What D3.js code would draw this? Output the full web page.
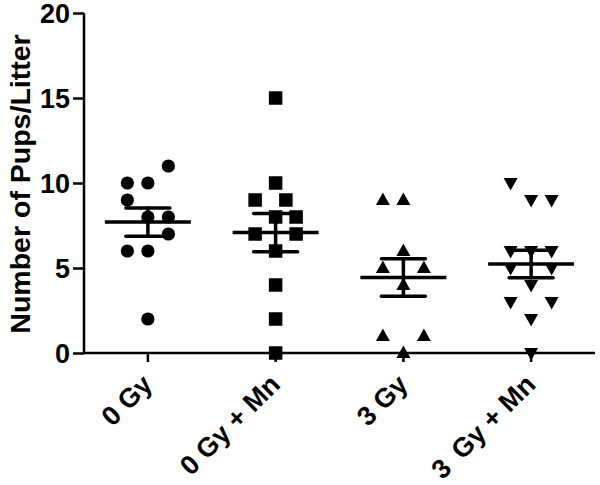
<!DOCTYPE html>
<html><head><meta charset="utf-8">
<script src="https://cdn.jsdelivr.net/npm/d3@7"></script>
<style>
html,body{margin:0;padding:0;background:#fff;}
svg text{font-family:"Liberation Sans",Arial,sans-serif;font-weight:bold;fill:#000;white-space:pre;}
</style></head>
<body><svg id="c" width="600" height="485"></svg>
<script>
const categories = ["0 Gy", "0 Gy + Mn", "3 Gy", "3\u2009 Gy + Mn"];
const shapes = ["circle", "square", "triangleUp", "triangleDown"];
const values0 = [11, 10, 10, 9, 8, 8, 7, 6, 6, 2];
const values1 = [15, 10, 9, 9, 8, 8, 7, 7, 6, 4, 2, 0];
const values2 = [9, 9, 6, 5, 5, 4, 1, 1, 0];
const values3 = [10, 9, 9, 6, 6, 6, 5, 5, 4, 3, 3, 2, 0];
// scatter column (jitter slot) of each point
const slots0 = [1, -1, 0, -1, 0, 1, 1, -1, 0, 0];
const slots1 = [0, 0, -1, 0.5, 0, 1, -1, 1, 0, 0, 0, 0];
const slots2 = [-1, 0, 0, -1, 1, 0, -1, 1, 0];
const slots3 = [-1, 0, 1, -1, 0, 1, -1, 1, 0, -1, 1, 0, 0];
const yTicks = [0, 5, 10, 15, 20];
const yTitle = "Number of Pups/Litter";

const groups = [
  {values: values0, slots: slots0},
  {values: values1, slots: slots1},
  {values: values2, slots: slots2},
  {values: values3, slots: slots3}
];

const svg = d3.select("#c");
const x = d3.scaleBand().domain(categories).range([84, 595]).padding(0);
const y = d3.scaleLinear().domain([0, 20]).range([353, 13]);
const slotW = 20.5;

// y axis
const yAxis = svg.append("g").attr("transform", "translate(84,0)")
  .call(d3.axisLeft(y).tickValues(yTicks).tickSize(11).tickPadding(3).tickFormat(d3.format("d")));
yAxis.select(".domain").attr("stroke", "#000").attr("stroke-width", 2.5).attr("d", "M0," + y(20) + "V" + y(0));
yAxis.selectAll(".tick line").attr("stroke", "#000").attr("stroke-width", 2.5);
yAxis.selectAll(".tick text").style("font-size", "27px").attr("dy", "0.36em");

// x axis
const xAxis = svg.append("g").attr("transform", "translate(0,353)")
  .call(d3.axisBottom(x).tickSize(9).tickFormat(""));
xAxis.select(".domain").attr("stroke", "#000").attr("stroke-width", 2.5).attr("d", "M84,0H595");
xAxis.selectAll(".tick line").attr("stroke", "#000").attr("stroke-width", 2.5);

// rotated category labels
svg.append("g").selectAll("text").data(categories).join("text")
  .attr("text-anchor", "end")
  .attr("transform", d => "translate(" + (x(d) + x.bandwidth() / 2 + 6) + ",386) rotate(-45)")
  .style("font-size", "27px")
  .text(d => d);

// y title
svg.append("text")
  .attr("transform", "translate(30,184) rotate(-90)")
  .attr("text-anchor", "middle")
  .style("font-size", "28.5px")
  .text(yTitle);

const sym = {
  circle: d3.symbol().type(d3.symbolCircle).size(Math.PI * 6.6 * 6.6),
  square: d3.symbol().type(d3.symbolSquare).size(13.5 * 13.5)
};
function triPath(cx, cy, up) {
  const w = 7, h = 12.5;
  if (up) return `M${cx},${cy - h * 0.6}L${cx + w},${cy + h * 0.4}L${cx - w},${cy + h * 0.4}Z`;
  return `M${cx},${cy + h * 0.6}L${cx + w},${cy - h * 0.4}L${cx - w},${cy - h * 0.4}Z`;
}

groups.forEach((g, i) => {
  const cx = x(categories[i]) + x.bandwidth() / 2;
  const pts = g.values.map((v, j) => ({v, px: cx + g.slots[j] * slotW, py: y(v)}));
  const layer = svg.append("g");
  const shape = shapes[i];
  layer.selectAll("path").data(pts).join("path")
    .attr("fill", "#000")
    .each(function(d) {
      const el = d3.select(this);
      if (shape === "circle" || shape === "square") el.attr("d", sym[shape]()).attr("transform", `translate(${d.px},${d.py})`);
      else el.attr("d", triPath(d.px, d.py, shape === "triangleUp"));
    });

  const mean = d3.mean(g.values);
  const sem = d3.deviation(g.values) / Math.sqrt(g.values.length);
  const lg = svg.append("g").attr("stroke", "#000").attr("stroke-width", 3.5).attr("stroke-linecap", "round");
  lg.append("line").attr("x1", cx - 43).attr("x2", cx + 43).attr("y1", y(mean)).attr("y2", y(mean)).attr("stroke-linecap", "butt");
  lg.append("line").attr("x1", cx).attr("x2", cx).attr("y1", y(mean + sem)).attr("y2", y(mean - sem));
  lg.append("line").attr("x1", cx - 22).attr("x2", cx + 22).attr("y1", y(mean + sem)).attr("y2", y(mean + sem));
  lg.append("line").attr("x1", cx - 22).attr("x2", cx + 22).attr("y1", y(mean - sem)).attr("y2", y(mean - sem));
});
</script></body></html>
